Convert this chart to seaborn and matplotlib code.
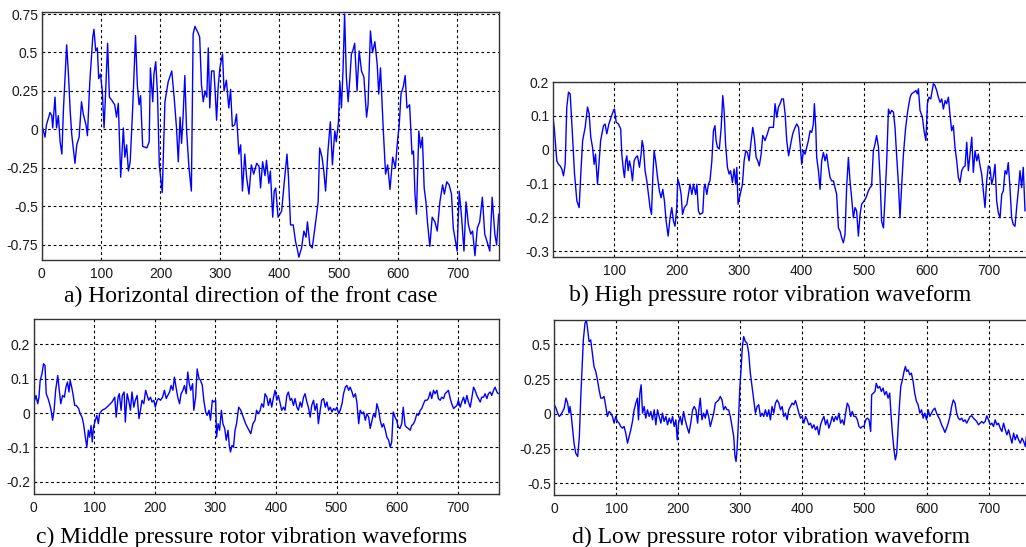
import matplotlib
matplotlib.use("Agg")
import matplotlib.pyplot as plt
import seaborn as sns

# ---------------- data ----------------
a_x = [0, 3, 5.6, 8, 14, 17, 18.5, 22.4, 25, 28,
       31, 34, 36.5, 39, 42, 45, 48, 50.5, 56, 59,
       63, 67, 70, 74.6, 77, 81, 86, 88, 91, 93.7,
       96, 99, 102, 105, 106.5, 111, 114, 118, 123, 126,
       129, 133, 137.5, 140, 143, 146, 149, 153, 158, 161,
       164, 166.5, 170, 177, 181, 183, 187, 189, 192, 195,
       198, 203, 207.5, 213, 219, 223, 227, 230, 233, 235.5,
       238, 241, 244, 248, 252, 255, 258, 263, 266, 269,
       272, 275, 278, 280.5, 283, 286, 290, 292, 294.5, 297,
       300, 304.5, 307, 311, 315, 318, 321, 325, 328, 332,
       335, 338, 342, 345, 349, 353, 357, 362, 366, 368.5,
       372, 376, 378.5, 382.5, 385, 389, 391.5, 394, 398, 404,
       408, 413, 415.5, 419, 423.5, 427.5, 430, 433, 437.5, 441.5,
       445, 447.5, 451.5, 455.5, 460, 465.5, 468, 472, 475, 478,
       482, 486, 489.5, 493.5, 496, 499.7, 502, 504.7, 507.5, 510,
       513, 516, 519, 521.5, 524.5, 527, 531, 534.5, 538.5, 542.5,
       547, 549.5, 553.5, 557, 561, 565, 567.5, 570.5, 575, 579,
       582.5, 586.5, 591, 595.5, 599, 602, 605, 609, 612, 615,
       619.5, 623.5, 626, 628.5, 631, 635, 638, 641, 644, 647,
       649.5, 653.5, 657.5, 662, 666, 670.5, 675, 678, 682, 686,
       690, 693, 697, 699.5, 703, 707, 711, 714.5, 718.5, 722.5,
       725.5, 729.5, 733.5, 737.5, 742, 746, 750, 754.5, 758.5, 763,
       766, 769.5]
a_y = [0.03, -0.01, -0.05, 0.03, 0.11, 0.09, 0.01, 0.21, 0.01, 0.09,
       -0.08, -0.16, 0.12, 0.31, 0.55, 0.36, 0.12, -0.03, -0.22, -0.10,
       -0.05, 0.18, 0.10, 0.03, -0.04, 0.31, 0.60, 0.65, 0.51, 0.53,
       0.33, 0.36, 0.25, 0.01, 0.14, 0.56, 0.21, 0.19, 0.16, 0.08,
       0.17, -0.31, 0.01, -0.18, -0.10, -0.27, -0.21, 0.12, 0.61, 0.29,
       0.16, 0.22, -0.11, -0.12, -0.08, 0.40, 0.18, 0.36, 0.44, 0.23,
       -0.23, -0.41, 0.18, 0.31, 0.38, 0.21, 0.01, -0.21, 0.08, -0.09,
       0.08, 0.35, -0.01, -0.25, -0.40, 0.62, 0.67, 0.63, 0.60, 0.29,
       0.18, 0.25, 0.21, 0.53, 0.14, 0.38, 0.38, 0.25, 0.06, 0.27,
       0.40, 0.49, 0.25, 0.32, 0.14, 0.26, 0.02, 0.03, 0.10, -0.16,
       -0.10, -0.40, -0.16, -0.31, -0.42, -0.23, -0.29, -0.22, -0.24, -0.38,
       -0.21, -0.30, -0.20, -0.35, -0.27, -0.57, -0.40, -0.38, -0.57, -0.53,
       -0.36, -0.16, -0.31, -0.62, -0.62, -0.73, -0.77, -0.83, -0.77, -0.66,
       -0.70, -0.60, -0.75, -0.77, -0.64, -0.47, -0.12, -0.18, -0.27, -0.40,
       -0.14, 0.05, -0.23, -0.01, -0.08, 0.05, 0.31, 0.14, 0.40, 0.75,
       0.34, 0.18, 0.34, 0.49, 0.52, 0.56, 0.25, 0.51, 0.38, 0.34,
       0.08, 0.16, 0.64, 0.50, 0.57, 0.42, 0.23, 0.40, 0.01, -0.29,
       -0.23, -0.39, -0.18, -0.25, -0.08, 0.03, 0.23, 0.28, 0.35, 0.14,
       0.16, -0.16, -0.14, -0.42, -0.55, -0.01, -0.12, -0.05, -0.38, -0.47,
       -0.60, -0.76, -0.57, -0.60, -0.66, -0.47, -0.36, -0.42, -0.34, -0.36,
       -0.42, -0.64, -0.73, -0.79, -0.40, -0.57, -0.79, -0.47, -0.62, -0.68,
       -0.66, -0.82, -0.64, -0.60, -0.44, -0.68, -0.73, -0.79, -0.44, -0.68,
       -0.75, -0.55]

b_x = [1, 3.4, 6, 7.6, 10.3, 13, 15.6, 18.3, 21, 23.6,
       26.3, 29, 32, 36, 39.7, 43.4, 46, 49, 53, 56.8,
       59.4, 62, 64.8, 67.4, 69.6, 72.8, 75.4, 77.8, 82.4, 85,
       87.7, 91, 94.7, 98.4, 100, 102.7, 106.4, 110, 111.7, 114.4,
       116, 118, 119.8, 121.9, 124, 126.2, 128.8, 131.5, 134, 136.8,
       140, 142.7, 144.3, 146.4, 149, 151.8, 154.5, 157, 159.3, 161.4,
       163.5, 166, 169, 172, 174.7, 177.4, 180, 182.8, 186, 189,
       191.8, 194.5, 197, 199.8, 201.4, 204, 206.8, 209, 212, 216,
       218.5, 221, 224, 226.5, 230, 232, 234.5, 237, 241.5, 243.6,
       245, 248, 250.5, 253, 256, 258.6, 261, 262.8, 265, 268,
       271, 273.5, 275.6, 278, 281, 283.7, 286, 289, 291.7, 294.3,
       296, 298, 301.5, 305, 307.7, 310.4, 313, 315.7, 318.4, 321.6,
       324, 327, 329.6, 332, 335, 337.6, 341.3, 345, 348, 352,
       354.7, 357.3, 360, 362.7, 365.4, 368, 370.7, 373.4, 376, 379,
       382.4, 385.6, 389.4, 392, 395, 397.4, 400, 402.7, 405.4, 408,
       410.7, 413.4, 416, 418.7, 420.3, 422.5, 424, 426.8, 429.4, 432,
       434.8, 437.4, 440, 442.8, 445.4, 448, 450.8, 453.4, 456, 458.8,
       461.5, 464, 466.8, 469.4, 472, 474.8, 477.4, 480, 482.8, 485.5,
       488, 490.8, 493.5, 496, 500, 503, 506.8, 509.5, 512, 514.8,
       517.5, 520, 523, 525.5, 528, 531, 533.5, 536, 539, 541.5,
       544, 547, 549.5, 552, 555, 557.5, 560, 563, 566.6, 570,
       573.7, 576, 580, 583, 585.3, 587, 589.6, 593.4, 596, 599,
       601.4, 604, 606.8, 611, 613.5, 616.3, 619, 621.7, 624.4, 627,
       629.8, 632.3, 635, 637.8, 640.3, 643, 645.6, 648.4, 651, 653.6,
       656.4, 659, 661.8, 664.4, 667, 669.8, 672.5, 675, 677.8, 680.5,
       683, 685.8, 688.4, 691, 693.7, 696.4, 699, 701.7, 704.4, 707,
       709.8, 712.4, 715, 717.8, 720.5, 723, 725.8, 728.5, 731, 733.7,
       736.4, 739, 741.8, 744.4, 747, 749.8, 752.4, 755, 757.8]
b_y = [0.100, 0.066, 0.007, -0.033, -0.043, -0.048, -0.057, -0.077, -0.043, 0.126,
       0.170, 0.165, 0.066, -0.072, -0.151, -0.171, -0.072, 0.027, 0.066, 0.126,
       0.106, 0.037, 0.007, -0.043, -0.013, -0.102, -0.033, 0.027, 0.071, 0.076,
       0.047, 0.076, 0.096, 0.116, 0.120, 0.081, 0.076, 0.061, -0.013, -0.062,
       -0.082, -0.033, -0.018, -0.062, -0.033, -0.052, -0.092, -0.033, -0.023, -0.018,
       -0.052, -0.013, 0.027, 0.007, -0.062, -0.092, -0.132, -0.171, -0.191, -0.082,
       -0.003, -0.033, -0.082, -0.122, -0.142, -0.117, -0.151, -0.211, -0.255, -0.201,
       -0.171, -0.211, -0.226, -0.171, -0.087, -0.102, -0.132, -0.191, -0.171, -0.161,
       -0.132, -0.102, -0.132, -0.102, -0.132, -0.102, -0.181, -0.191, -0.186, -0.112,
       -0.102, -0.132, -0.102, -0.092, -0.033, 0.056, 0.071, 0.027, 0.007, 0.002,
       0.066, 0.160, 0.116, 0.017, -0.052, -0.072, -0.062, -0.097, -0.057, -0.102,
       -0.052, -0.161, -0.132, -0.102, -0.033, -0.003, -0.008, -0.033, 0.017, 0.066,
       0.037, -0.023, -0.033, -0.048, -0.013, 0.042, 0.027, 0.047, 0.066, 0.066,
       0.066, 0.136, 0.096, 0.126, 0.136, 0.150, 0.150, 0.106, 0.027, -0.018,
       0.017, 0.047, 0.066, 0.076, 0.066, 0.017, -0.043, -0.003, -0.013, 0.007,
       0.027, 0.056, 0.051, 0.076, 0.136, 0.066, -0.023, -0.062, -0.117, -0.033,
       -0.008, -0.033, -0.013, -0.052, -0.082, -0.092, -0.092, -0.112, -0.132, -0.231,
       -0.241, -0.260, -0.275, -0.250, -0.112, -0.023, -0.092, -0.142, -0.201, -0.171,
       -0.181, -0.255, -0.191, -0.161, -0.151, -0.142, -0.122, -0.112, -0.107, -0.003,
       0.017, 0.042, 0.007, -0.082, -0.211, -0.231, -0.142, -0.043, 0.120, 0.106,
       0.116, 0.111, 0.066, -0.013, -0.102, -0.201, -0.112, -0.013, 0.066, 0.116,
       0.155, 0.165, 0.170, 0.175, 0.165, 0.180, 0.116, 0.096, 0.056, 0.027,
       0.136, 0.155, 0.150, 0.195, 0.190, 0.175, 0.155, 0.140, 0.150, 0.120,
       0.145, 0.136, 0.155, 0.100, 0.056, 0.071, 0.007, -0.033, -0.082, -0.097,
       -0.062, -0.052, -0.048, 0.022, -0.062, -0.013, 0.037, -0.067, -0.003, -0.033,
       -0.013, -0.048, -0.072, -0.122, -0.171, -0.092, -0.048, -0.052, -0.102, -0.082,
       -0.043, -0.151, -0.186, -0.201, -0.132, -0.122, -0.062, -0.072, -0.038, -0.112,
       -0.201, -0.221, -0.226, -0.171, -0.122, -0.062, -0.112, -0.052, -0.181]

c_x = [0, 2, 4, 7, 9, 11, 14, 16.5, 19, 21,
       24, 26.5, 29, 31.5, 34, 36.5, 40, 42.5, 45, 48,
       51, 53.5, 56, 58.5, 60.5, 63, 65, 68, 70.5, 74.5,
       77, 80, 82.5, 85.5, 88, 90.5, 92.5, 95, 97, 99,
       102, 104.5, 107, 109, 113, 118.5, 124, 129.5, 134, 136.5,
       139.5, 141.5, 144.5, 146.5, 149.5, 151.5, 154.5, 157, 160, 162.5,
       165.5, 168, 171, 174, 176.5, 179, 182, 185, 187.5, 190,
       193, 195.5, 198.5, 201, 204, 206.5, 209.5, 213, 216, 219,
       221.5, 224.5, 227, 230, 232.5, 235.5, 238, 241, 243.5, 246.5,
       249, 252, 254.5, 257, 259.5, 262.5, 264.5, 267.5, 270, 273,
       275.5, 278.5, 281, 284, 286.5, 289.5, 292, 295, 297.5, 300.5,
       302, 304.5, 307, 310, 312.5, 315.5, 318, 321, 323, 325,
       327.5, 330, 332.5, 335, 338.5, 342, 346, 350, 354, 358.5,
       362, 365.5, 368, 371, 374, 376.5, 379.5, 382, 385, 387.5,
       390.5, 393, 396, 398.5, 401.5, 404, 407, 409.5, 412.5, 415,
       418, 420.5, 423.5, 426, 429, 431.5, 434.5, 437, 440, 442.5,
       445.5, 448, 451, 453.5, 456.5, 459, 462, 464.5, 467.5, 470,
       473, 475.5, 478.5, 481.5, 484, 487, 489.5, 492.5, 495, 498,
       500.5, 503.5, 506, 509, 511.5, 514.5, 517, 520, 522.5, 525.5,
       528, 531, 533.5, 536.5, 539, 542, 544.5, 547.5, 550, 553,
       555.5, 558.5, 561, 564, 566.5, 569.5, 572, 575, 577.5, 580.5,
       583, 586, 588.5, 591, 593.5, 596.5, 599, 602, 604.5, 607.5,
       610, 613, 615.5, 618.5, 621.5, 624, 627, 629.5, 632.5, 635,
       638, 640.5, 643.5, 646, 649, 651.5, 654.5, 657, 660, 662.5,
       665.5, 668, 671, 673.5, 676.5, 679, 682, 684.5, 687.5, 690,
       693, 695.5, 698.5, 701, 704, 706.5, 709.5, 712, 715, 717.5,
       720.5, 723, 726, 728.5, 731.5, 734, 737, 739.5, 742.5, 745,
       748, 750.5, 753.5, 756, 759, 761.5, 764.5, 767]
c_y = [0.056, 0.037, 0.051, 0.027, 0.046, 0.095, 0.114, 0.143, 0.138, 0.056,
       0.042, 0.027, 0.008, -0.021, 0.008, 0.066, 0.109, 0.066, 0.027, 0.051,
       0.046, 0.075, 0.090, 0.061, 0.095, 0.075, 0.056, 0.022, 0.022, 0.013,
       -0.002, -0.012, -0.031, -0.070, -0.099, -0.050, -0.070, -0.036, -0.084, -0.041,
       -0.021, -0.007, -0.031, -0.002, 0.008, 0.013, 0.022, 0.032, 0.046, -0.012,
       0.046, 0.056, 0.008, 0.051, 0.061, -0.026, 0.056, 0.037, 0.008, 0.061,
       0.017, 0.037, 0.051, -0.016, 0.008, 0.037, 0.027, 0.066, 0.051, 0.037,
       0.046, 0.032, 0.037, 0.017, 0.037, 0.042, 0.037, 0.046, 0.066, 0.042,
       0.051, 0.061, 0.080, 0.066, 0.104, 0.071, 0.046, 0.027, 0.056, 0.066,
       0.080, 0.056, 0.119, 0.085, 0.066, 0.085, 0.008, 0.046, 0.128, 0.100,
       0.095, 0.080, 0.037, 0.003, -0.007, 0.008, -0.021, 0.037, 0.032, 0.037,
       -0.070, -0.031, -0.050, 0.008, -0.031, -0.045, -0.079, -0.050, -0.094, -0.113,
       -0.094, -0.099, -0.050, -0.031, 0.017, 0.008, -0.012, -0.031, -0.045, -0.060,
       -0.031, -0.021, 0.008, -0.002, 0.008, 0.027, 0.017, 0.056, 0.046, 0.022,
       0.042, 0.017, 0.046, 0.066, 0.037, 0.051, 0.027, 0.008, 0.017, 0.008,
       0.051, 0.061, 0.037, 0.042, 0.022, 0.042, 0.017, 0.008, 0.032, 0.017,
       0.046, 0.056, 0.032, 0.017, -0.012, 0.022, 0.037, 0.008, 0.027, -0.031,
       0.008, 0.037, 0.042, 0.017, 0.032, 0.008, 0.017, 0.003, 0.013, 0.008,
       0.017, -0.002, 0.008, 0.027, 0.056, 0.075, 0.080, 0.066, 0.075, 0.061,
       0.046, 0.056, 0.032, -0.031, 0.008, -0.002, 0.003, -0.021, -0.002, -0.012,
       -0.045, -0.021, -0.002, -0.012, 0.027, 0.008, -0.021, -0.041, -0.031, -0.050,
       -0.070, -0.079, -0.099, -0.084, 0.003, -0.012, -0.021, -0.041, -0.045, -0.031,
       0.017, -0.036, -0.041, -0.045, -0.050, -0.036, -0.031, -0.021, -0.002, -0.007,
       0.008, 0.013, 0.027, 0.037, 0.037, 0.042, 0.061, 0.042, 0.066, 0.056,
       0.066, 0.042, 0.037, 0.046, 0.042, 0.056, 0.061, 0.066, 0.042, 0.027,
       0.013, 0.017, 0.022, 0.037, 0.017, 0.032, 0.046, 0.027, 0.051, 0.032,
       0.017, 0.042, 0.075, 0.066, 0.051, 0.042, 0.032, 0.046, 0.046, 0.056,
       0.042, 0.056, 0.061, 0.051, 0.066, 0.075, 0.061, 0.056]

d_x = [0, 2.7, 5.4, 8, 10.8, 13.5, 16, 18.8, 21.5, 23.7,
       25.3, 27.5, 29.6, 31.8, 34.5, 37.7, 40.4, 42.5, 44.7, 46.8,
       49.5, 51.7, 53.9, 56, 58.7, 61.4, 64, 66.8, 69.5, 72.2,
       74.9, 77.5, 80.2, 83, 85.6, 88.3, 91, 93.7, 96.4, 99,
       101.8, 104.5, 107, 109.9, 112.5, 115.2, 118, 120.6, 123.3, 126,
       128.7, 131.4, 134, 135.7, 137.9, 140, 142.2, 144.9, 147.5, 150.2,
       153, 155.6, 158.3, 161, 163.7, 166.4, 169, 171.8, 174.5, 177,
       179.9, 182.5, 185.2, 188, 190.6, 193.3, 196, 198.2, 200.3, 203,
       205.7, 208.4, 211, 213.8, 217, 220, 223, 225.6, 228.3, 231,
       233, 235.3, 238, 240.7, 243.4, 246, 248.8, 251.5, 254.2, 257,
       259.6, 262.3, 265, 267.6, 270.3, 273, 275.7, 278.4, 281, 283.8,
       286.5, 289.2, 291.3, 293, 294.6, 296.7, 298.9, 301, 303.2, 305.3,
       308, 310.7, 313.4, 316, 318.8, 321.5, 324.2, 327, 329.6, 332.3,
       335, 337.6, 340.3, 343, 345.7, 348.4, 351, 353.8, 356.5, 359.2,
       362, 364.6, 367.3, 370, 372.6, 375.3, 378, 380.7, 383.4, 386,
       388.8, 391.5, 394.2, 397, 399.6, 402.3, 405, 407.6, 410.3, 413,
       415.7, 418.4, 421, 423.8, 426.5, 429.2, 432, 434.6, 437.3, 440,
       442.6, 445.3, 448, 450.7, 453.4, 456, 458.8, 461.5, 464.2, 467,
       469.6, 472.3, 475, 477.7, 480.4, 483, 485.8, 488.5, 491.2, 494,
       496.6, 499.2, 502, 504.6, 507.3, 510, 511.6, 514.3, 517, 519,
       521.8, 524.5, 527.2, 530, 532.6, 535.3, 538, 540.7, 542.3, 545,
       547.6, 549.8, 552, 554, 556.3, 558.5, 561.2, 563.8, 566, 568,
       570.3, 573, 575.6, 578.4, 581, 583.8, 586.5, 589.2, 592, 594.6,
       597.3, 600, 602.7, 605.4, 608, 610.8, 613.5, 616.2, 619, 621.6,
       624.3, 627, 629.7, 632.4, 635, 637.8, 640.5, 643.2, 646, 648.6,
       651.3, 654, 656.7, 659.4, 662, 664.8, 667.5, 670.2, 673, 675.6,
       678.3, 681, 683.7, 686.4, 689, 691.8, 694.5, 697.2, 700, 702.6,
       705.3, 708, 710.7, 713.4, 716, 718.8, 721.5, 724.2, 727, 729.6,
       732.3, 735, 737.7, 740.4, 743, 745.8, 748.5, 751.2, 754, 756.6,
       759.3, 761]
d_y = [0.065, 0.041, 0.005, -0.019, -0.007, 0.017, 0.041, 0.113, 0.077, 0.005,
       0.053, -0.019, -0.115, -0.211, -0.283, -0.307, -0.163, 0.100, 0.317, 0.532,
       0.652, 0.676, 0.604, 0.520, 0.532, 0.436, 0.340, 0.305, 0.245, 0.173,
       0.113, 0.113, 0.125, 0.053, -0.019, 0.017, 0.005, -0.019, -0.067, -0.019,
       -0.055, -0.067, -0.091, -0.103, -0.091, -0.139, -0.211, -0.163, -0.115, -0.055,
       0.029, 0.077, 0.113, -0.043, 0.149, 0.209, 0.005, 0.053, -0.031, 0.029,
       -0.019, 0.017, -0.043, 0.029, -0.079, 0.029, -0.019, -0.067, 0.005, -0.055,
       -0.019, -0.079, -0.031, -0.067, -0.019, -0.091, -0.043, -0.187, -0.067, -0.019,
       -0.079, 0.017, -0.043, -0.091, -0.139, -0.067, 0.029, 0.053, 0.029, -0.067,
       0.029, 0.113, -0.043, 0.005, -0.031, 0.029, -0.019, -0.091, -0.043, 0.005,
       0.077, 0.089, 0.100, 0.125, 0.100, 0.029, 0.053, 0.029, 0.029, -0.019,
       -0.091, -0.163, -0.307, -0.343, -0.259, -0.067, 0.173, 0.317, 0.484, 0.556,
       0.520, 0.508, 0.436, 0.293, 0.197, 0.100, 0.005, 0.053, 0.065, -0.019,
       0.005, -0.019, 0.029, -0.019, 0.029, -0.043, 0.053, 0.005, 0.077, 0.100,
       0.077, 0.029, 0.053, -0.019, 0.005, -0.043, 0.029, 0.053, 0.077, 0.065,
       0.096, 0.053, 0.005, -0.031, -0.019, -0.067, -0.019, -0.043, -0.079, -0.067,
       -0.103, -0.079, -0.115, -0.091, -0.151, -0.079, -0.043, -0.019, -0.079, -0.043,
       -0.103, -0.067, -0.019, -0.055, -0.019, -0.043, 0.005, -0.067, -0.043, -0.079,
       0.005, 0.077, 0.053, -0.019, 0.017, -0.019, -0.019, -0.043, -0.091, -0.103,
       -0.091, -0.091, -0.043, -0.031, -0.043, -0.127, 0.137, 0.149, 0.161, 0.220,
       0.185, 0.197, 0.161, 0.185, 0.137, 0.161, 0.113, 0.149, 0.029, -0.139,
       -0.259, -0.331, -0.283, -0.115, 0.053, 0.197, 0.245, 0.305, 0.341, 0.305,
       0.317, 0.281, 0.293, 0.233, 0.149, 0.089, 0.065, 0.005, 0.029, -0.031,
       0.005, -0.043, 0.029, -0.019, 0.005, 0.029, 0.041, 0.005, -0.019, -0.043,
       -0.079, -0.103, -0.134, -0.103, -0.067, -0.019, 0.053, 0.100, 0.077, 0.005,
       -0.031, -0.043, -0.031, -0.055, -0.043, -0.067, -0.043, -0.019, -0.014, -0.031,
       -0.043, -0.055, -0.079, -0.067, -0.055, -0.067, -0.055, -0.014, -0.043, -0.079,
       -0.067, -0.091, -0.043, -0.079, -0.067, -0.103, -0.127, -0.067, -0.115, -0.151,
       -0.115, -0.163, -0.211, -0.139, -0.187, -0.151, -0.187, -0.211, -0.175, -0.199,
       -0.235, -0.163]

captions = ["a) Horizontal direction of the front case",
            "b) High pressure rotor vibration waveform",
            "c) Middle pressure rotor vibration waveforms",
            "d) Low pressure rotor vibration waveform"]

a_yticks = [-0.75, -0.5, -0.25, 0, 0.25, 0.5, 0.75]
a_ylabels = ["-0.75", "-0.5", "-0.25", "0", "0.25", "0.5", "0.75"]
b_yticks = [-0.3, -0.2, -0.1, 0, 0.1, 0.2]
b_ylabels = ["-0.3", "-0.2", "-0.1", "0", "0.1", "0.2"]
c_yticks = [-0.2, -0.1, 0, 0.1, 0.2]
c_ylabels = ["-0.2", "-0.1", "0", "0.1", "0.2"]
d_yticks = [-0.5, -0.25, 0, 0.25, 0.5]
d_ylabels = ["-0.5", "-0.25", "0", "0.25", "0.5"]
x_ticks_full = [0, 100, 200, 300, 400, 500, 600, 700]
x_ticks_b = [100, 200, 300, 400, 500, 600, 700]

# ---------------- figure ----------------
sns.set_style("white")
plt.rcParams["font.family"] = ["Liberation Sans", "DejaVu Sans"]

W, H = 1026, 547
fig = plt.figure(figsize=(W / 100, H / 100), dpi=100)
fig.patch.set_facecolor("white")


def box(left, top, right, bottom):
    return [left / W, 1 - bottom / H, (right - left) / W, (bottom - top) / H]


panels = [
    dict(rect=box(41.7, 11.7, 499, 260), x=a_x, y=a_y, xlim=(0, 770), ylim=(-0.848, 0.765),
         yt=a_yticks, yl=a_ylabels, xt=x_ticks_full, cap=captions[0], cx=251, cy=296, edge=False),
    dict(rect=box(552.7, 82, 1027, 256.7), x=b_x, y=b_y, xlim=(1, 761), ylim=(-0.316, 0.2),
         yt=b_yticks, yl=b_ylabels, xt=x_ticks_b, cap=captions[1], cx=770, cy=295, edge=True),
    dict(rect=box(33.5, 319.3, 499, 494), x=c_x, y=c_y, xlim=(0, 768), ylim=(-0.235, 0.272),
         yt=c_yticks, yl=c_ylabels, xt=x_ticks_full, cap=captions[2], cx=252, cy=537, edge=False),
    dict(rect=box(554.3, 320, 1027, 495.3), x=d_x, y=d_y, xlim=(0, 762), ylim=(-0.586, 0.675),
         yt=d_yticks, yl=d_ylabels, xt=x_ticks_full, cap=captions[3], cx=771, cy=537, edge=True),
]

for p in panels:
    ax = fig.add_axes(p["rect"])
    sns.lineplot(x=p["x"], y=p["y"], ax=ax, color="#0000ff", linewidth=1.0,
                 estimator=None, sort=False)
    ax.set_xlim(*p["xlim"])
    ax.set_ylim(*p["ylim"])
    ax.set_xticks(p["xt"])
    ax.set_xticklabels([str(v) for v in p["xt"]])
    ax.set_yticks(p["yt"])
    ax.set_yticklabels(p["yl"])
    ax.grid(True, color="black", linestyle=(0, (2.5, 2.5)), linewidth=0.8)
    ax.set_axisbelow(True)
    ax.tick_params(axis="both", length=0, labelsize=10, colors="#1a1a1a")
    ax.tick_params(axis="x", pad=5)
    ax.tick_params(axis="y", pad=2.5)
    for s in ax.spines.values():
        s.set_color("#333333")
        s.set_linewidth(1.0)
    if p["edge"]:
        ax.spines["right"].set_visible(False)
    ax.set_xlabel("")
    ax.set_ylabel("")
    fig.text(p["cx"] / W, 1 - p["cy"] / H, p["cap"], ha="center", va="center",
             fontsize=17, family=["Liberation Serif", "DejaVu Serif"], color="black")

fig.savefig("out.png", dpi=100, facecolor="white")
